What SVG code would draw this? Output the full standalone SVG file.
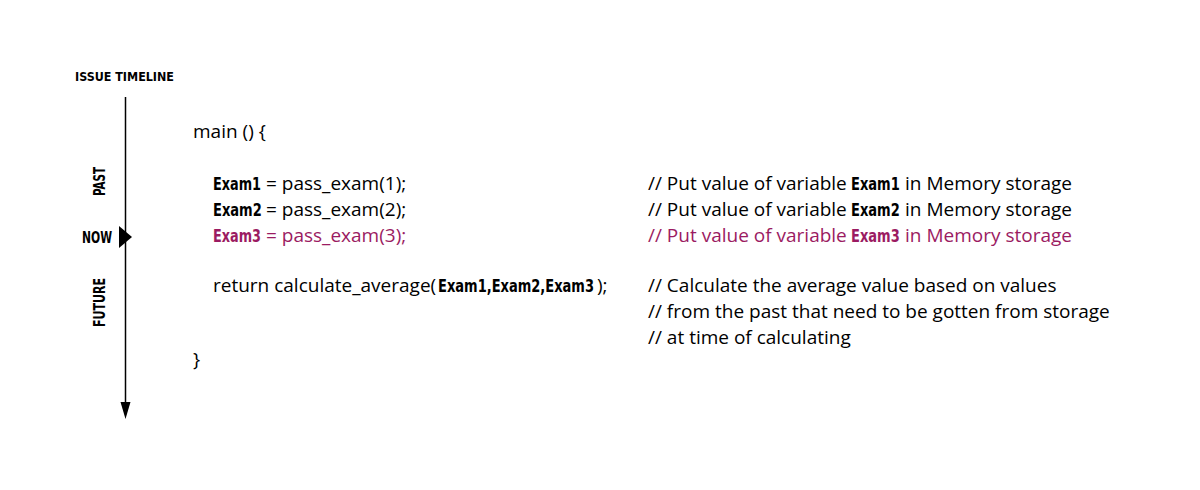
<svg xmlns="http://www.w3.org/2000/svg" width="1200" height="490" viewBox="0 0 1200 490">
<style>
.lbl{font-family:"DejaVu Sans Condensed","Liberation Sans Narrow",sans-serif;font-weight:bold;font-size:16.5px;fill:#000}
.ttl{font-size:13px}
.code{font-family:"Open Sans","Liberation Sans",sans-serif;font-size:19px;fill:#000}
.b{font-family:"DejaVu Sans Condensed","Liberation Sans Narrow",sans-serif;font-weight:bold;font-size:18px;fill:#000}
.hl{fill:#9b1b62}
</style>
<rect width="1200" height="490" fill="#fff"/>
<g id="timeline">
<text class="lbl ttl" x="75" y="81" textLength="99" lengthAdjust="spacingAndGlyphs">ISSUE TIMELINE</text>
<line x1="125.5" y1="97" x2="125.5" y2="405" stroke="#000" stroke-width="1.5"/>
<polygon points="120.5,402 130.5,402 125.5,419" fill="#000"/>
<polygon points="119,226 132,237 119,248" fill="#000"/>
<text class="lbl" transform="translate(104.5,181.5) rotate(-90)" text-anchor="middle" textLength="29" lengthAdjust="spacingAndGlyphs">PAST</text>
<text class="lbl" x="82" y="243" textLength="30" lengthAdjust="spacingAndGlyphs">NOW</text>
<text class="lbl" transform="translate(105,302.5) rotate(-90)" text-anchor="middle" textLength="49" lengthAdjust="spacingAndGlyphs">FUTURE</text>
</g>
<g id="code">
<text class="code" x="193" y="138">main () {</text>
<text class="b" transform="translate(213,190) scale(0.8,1)" textLength="60" lengthAdjust="spacingAndGlyphs">Exam1</text>
<text class="code" x="266" y="190">= pass_exam(1);</text>
<text class="b" transform="translate(213,216) scale(0.8,1)" textLength="61" lengthAdjust="spacingAndGlyphs">Exam2</text>
<text class="code" x="266" y="216">= pass_exam(2);</text>
<text class="b hl" transform="translate(213,242) scale(0.8,1)" textLength="60" lengthAdjust="spacingAndGlyphs">Exam3</text>
<text class="code hl" x="266" y="242">= pass_exam(3);</text>
<text class="code" x="213" y="292">return calculate_average(</text>
<text class="b" transform="translate(438,292) scale(0.78,1)" textLength="200" lengthAdjust="spacingAndGlyphs">Exam1,Exam2,Exam3</text>
<text class="code" x="597" y="292">);</text>
<text class="code" x="193" y="366">}</text>
</g>
<g id="comments">
<text class="code" x="648" y="190">// Put value of variable</text>
<text class="b" transform="translate(851,190) scale(0.8,1)" textLength="61" lengthAdjust="spacingAndGlyphs">Exam1</text>
<text class="code" x="905" y="190">in Memory storage</text>
<text class="code" x="648" y="216">// Put value of variable</text>
<text class="b" transform="translate(851,216) scale(0.8,1)" textLength="61" lengthAdjust="spacingAndGlyphs">Exam2</text>
<text class="code" x="905" y="216">in Memory storage</text>
<text class="code hl" x="648" y="242">// Put value of variable</text>
<text class="b hl" transform="translate(851,242) scale(0.8,1)" textLength="61" lengthAdjust="spacingAndGlyphs">Exam3</text>
<text class="code hl" x="905" y="242">in Memory storage</text>
<text class="code" x="648" y="292">// Calculate the average value based on values</text>
<text class="code" x="648" y="318">// from the past that need to be gotten from storage</text>
<text class="code" x="648" y="344">// at time of calculating</text>
</g>
</svg>
